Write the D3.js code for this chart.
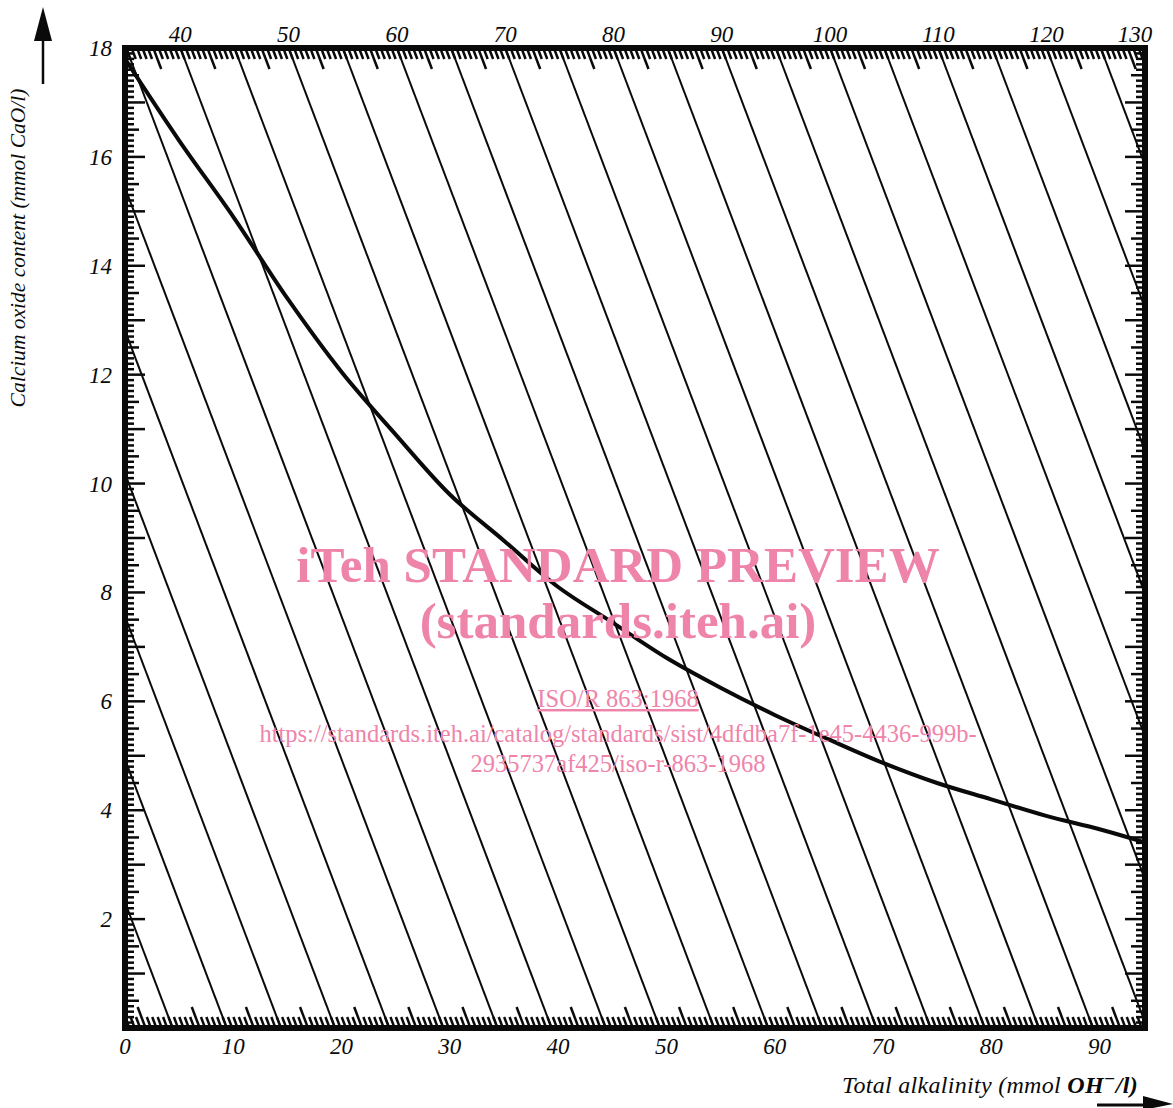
<!DOCTYPE html>
<html>
<head>
<meta charset="utf-8">
<script src="https://cdn.jsdelivr.net/npm/d3@7"></script>
<style>
  body { margin: 0; background: #fff; }
  svg { display: block; }
</style>
</head>
<body>
<div id="chart"></div>
<script>
// Solubility curve: total alkalinity (mmol OH-/l) vs calcium oxide (mmol CaO/l)
const curveAlkalinity = [0, 5, 10, 15, 20, 25, 30, 35, 40, 45, 50, 55, 60, 65, 70, 75, 80, 85, 90, 94];
const curveCaO = [17.8, 16.3, 14.9, 13.4, 12.05, 10.9, 9.8, 8.95, 8.1, 7.45, 6.8, 6.25, 5.75, 5.3, 4.87, 4.5, 4.2, 3.9, 3.65, 3.42];

// Diagonal scale (lines of constant value)
const diagonalValues = [5, 10, 15, 20, 25, 30, 35, 40, 45, 50, 55, 60, 65, 70, 75, 80, 85, 90, 95, 100, 105, 110, 115, 120, 125, 130];
const topLabels = [40, 50, 60, 70, 80, 90, 100, 110, 120, 130];
const bottomLabels = [0, 10, 20, 30, 40, 50, 60, 70, 80, 90];
const leftLabels = [2, 4, 6, 8, 10, 12, 14, 16, 18];

const W = 1173, H = 1108;
const X_MAX = 94.2, Y_MAX = 18;
const DIAG_SLOPE = 1.905;   // alkalinity units per CaO unit along a diagonal
const DIAG_OFFSET = -0.6;   // shift of diagonal lines at the bottom edge
const INK = '#0a0a0a';
const PINK = '#ef84aa';
const SERIF = '"Liberation Serif", "DejaVu Serif", serif';

const x = d3.scaleLinear().domain([0, X_MAX]).range([125, 1145]);
const y = d3.scaleLinear().domain([0, Y_MAX]).range([1028, 48]);

const diagX = (c, v) => c + DIAG_OFFSET - DIAG_SLOPE * v;
// pixel lean of a diagonal per pixel of height
const lean = (x(DIAG_SLOPE) - x(0)) / (y(0) - y(1));

const svg = d3.select('#chart').append('svg')
    .attr('width', W)
    .attr('height', H)
    .attr('viewBox', `0 0 ${W} ${H}`)
    .style('background', '#fff');

svg.append('defs').append('clipPath').attr('id', 'plot-clip')
    .append('rect')
    .attr('x', x(0)).attr('y', y(Y_MAX))
    .attr('width', x(X_MAX) - x(0))
    .attr('height', y(0) - y(Y_MAX));

const plot = svg.append('g').attr('clip-path', 'url(#plot-clip)');

// Diagonal lines
plot.append('g').attr('class', 'diagonals')
    .selectAll('line')
    .data(diagonalValues)
    .enter()
    .append('line')
    .attr('x1', c => x(diagX(c, 0)))
    .attr('y1', y(0))
    .attr('x2', c => x(diagX(c, Y_MAX)))
    .attr('y2', y(Y_MAX))
    .attr('stroke', INK)
    .attr('stroke-width', 2);

// Ticks on left and right sides (CaO scale)
const yTicks = d3.range(0, 181).map(i => i / 10);
const yTickLen = v => {
    const i = Math.round(v * 10);
    if (i % 10 === 0) return 20;
    if (i % 5 === 0) return 14;
    return 9;
};
const ticks = plot.append('g').attr('class', 'ticks')
    .attr('stroke', INK)
    .attr('stroke-width', 2.5);

ticks.selectAll('line.left')
    .data(yTicks)
    .enter()
    .append('line')
    .attr('class', 'left')
    .attr('x1', x(0))
    .attr('x2', v => x(0) + yTickLen(v))
    .attr('y1', v => y(v))
    .attr('y2', v => y(v));

ticks.selectAll('line.right')
    .data(yTicks)
    .enter()
    .append('line')
    .attr('class', 'right')
    .attr('x1', x(X_MAX))
    .attr('x2', v => x(X_MAX) - yTickLen(v))
    .attr('y1', v => y(v))
    .attr('y2', v => y(v));

// Slanted ticks on top and bottom (diagonal scale, every 0.5)
const cTicks = d3.range(0, 261).map(i => i / 2);
const cTickLen = c => (Math.abs(((c - 2.5) % 5 + 5) % 5) < 1e-6 ? 21 : 11);

const bottomTicks = cTicks.filter(c => diagX(c, 0) >= 0.2 && diagX(c, 0) <= X_MAX);
ticks.selectAll('line.bottom')
    .data(bottomTicks)
    .enter()
    .append('line')
    .attr('class', 'bottom')
    .attr('x1', c => x(diagX(c, 0)))
    .attr('y1', y(0))
    .attr('x2', c => x(diagX(c, 0)) - lean * cTickLen(c))
    .attr('y2', c => y(0) - cTickLen(c));

const topTicks = cTicks.filter(c => diagX(c, Y_MAX) >= 0 && diagX(c, Y_MAX) <= X_MAX - 0.2);
ticks.selectAll('line.top')
    .data(topTicks)
    .enter()
    .append('line')
    .attr('class', 'top')
    .attr('x1', c => x(diagX(c, Y_MAX)))
    .attr('y1', y(Y_MAX))
    .attr('x2', c => x(diagX(c, Y_MAX)) + lean * cTickLen(c))
    .attr('y2', c => y(Y_MAX) + cTickLen(c));

// Solubility curve
const curvePoints = curveAlkalinity.map((a, i) => [a, curveCaO[i]]);
plot.append('path')
    .datum(curvePoints)
    .attr('d', d3.line()
        .x(d => x(d[0]))
        .y(d => y(d[1]))
        .curve(d3.curveCatmullRom.alpha(0.5)))
    .attr('fill', 'none')
    .attr('stroke', INK)
    .attr('stroke-width', 4);

// Frame
svg.append('rect')
    .attr('x', x(0)).attr('y', y(Y_MAX))
    .attr('width', x(X_MAX) - x(0))
    .attr('height', y(0) - y(Y_MAX))
    .attr('fill', 'none')
    .attr('stroke', INK)
    .attr('stroke-width', 6);

// Tick labels
const labels = svg.append('g')
    .attr('font-family', SERIF)
    .attr('font-style', 'italic')
    .attr('font-size', 23)
    .attr('fill', INK);

labels.selectAll('text.bottom')
    .data(bottomLabels)
    .enter()
    .append('text')
    .attr('x', v => x(v))
    .attr('y', 1054)
    .attr('text-anchor', 'middle')
    .text(d => d);

labels.selectAll('text.top')
    .data(topLabels)
    .enter()
    .append('text')
    .attr('x', c => Math.min(x(diagX(c, Y_MAX)), x(X_MAX) - 10))
    .attr('y', 42)
    .attr('text-anchor', 'middle')
    .text(d => d);

labels.selectAll('text.left')
    .data(leftLabels)
    .enter()
    .append('text')
    .attr('x', 112)
    .attr('y', v => y(v) + 8)
    .attr('text-anchor', 'end')
    .text(d => d);

// Axis titles
svg.append('text')
    .attr('transform', 'translate(25, 248) rotate(-90)')
    .attr('text-anchor', 'middle')
    .attr('font-family', SERIF)
    .attr('font-style', 'italic')
    .attr('font-size', 21.5)
    .attr('fill', INK)
    .text('Calcium oxide content (mmol CaO/l)');

const xTitle = svg.append('text')
    .attr('x', 1138)
    .attr('y', 1093)
    .attr('text-anchor', 'end')
    .attr('font-family', SERIF)
    .attr('font-style', 'italic')
    .attr('font-size', 24)
    .attr('letter-spacing', 0.3)
    .attr('fill', INK);
xTitle.append('tspan').text('Total alkalinity (mmol ');
xTitle.append('tspan').attr('font-weight', 'bold').text('OH');
xTitle.append('tspan').attr('font-weight', 'bold').attr('dy', -8).attr('font-size', 19).text('\u2212');
xTitle.append('tspan').attr('font-weight', 'bold').attr('dy', 8).text('/l)');

// Arrows
svg.append('line')
    .attr('x1', 43).attr('y1', 84).attr('x2', 43).attr('y2', 38)
    .attr('stroke', INK).attr('stroke-width', 2.5);
svg.append('path')
    .attr('d', 'M43,7 L52,41 L34,41 Z')
    .attr('fill', INK);

svg.append('line')
    .attr('x1', 1097).attr('y1', 1105).attr('x2', 1145).attr('y2', 1105)
    .attr('stroke', INK).attr('stroke-width', 3);
svg.append('path')
    .attr('d', 'M1173,1104 L1143,1096 L1143,1110 Z')
    .attr('fill', INK);

// Watermark
const wm = svg.append('g')
    .attr('font-family', SERIF)
    .attr('fill', PINK)
    .attr('text-anchor', 'middle');
wm.append('text')
    .attr('x', 618).attr('y', 582)
    .attr('font-size', 51).attr('font-weight', 'bold')
    .text('iTeh STANDARD PREVIEW');
wm.append('text')
    .attr('x', 618).attr('y', 638)
    .attr('font-size', 51).attr('font-weight', 'bold')
    .text('(standards.iteh.ai)');
wm.append('text')
    .attr('x', 618).attr('y', 707)
    .attr('font-size', 24.5)
    .attr('text-decoration', 'underline')
    .text('ISO/R 863:1968');
wm.append('text')
    .attr('x', 618).attr('y', 742)
    .attr('font-size', 24.5)
    .text('https://standards.iteh.ai/catalog/standards/sist/4dfdba7f-1e45-4436-999b-');
wm.append('text')
    .attr('x', 618).attr('y', 772)
    .attr('font-size', 24.5)
    .text('2935737af425/iso-r-863-1968');
</script>
</body>
</html>
